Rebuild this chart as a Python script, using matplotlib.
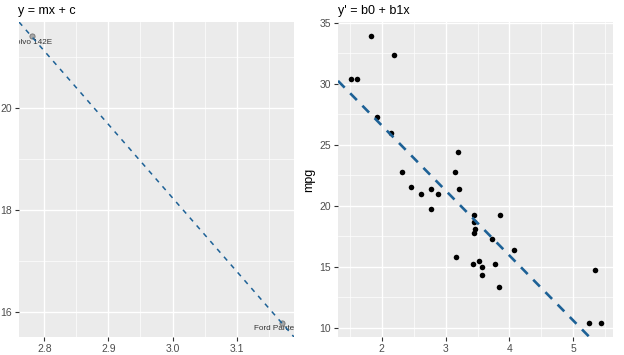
import matplotlib
matplotlib.use("Agg")
import matplotlib.pyplot as plt
from matplotlib.ticker import MultipleLocator, FormatStrFormatter
import numpy as np

plt.rcParams["font.family"] = ["Liberation Sans", "DejaVu Sans"]

# mtcars data (weight in 1000 lbs, miles per gallon)
wt = [2.620, 2.875, 2.320, 3.215, 3.440, 3.460, 3.570, 3.190, 3.150, 3.440, 3.440,
      4.070, 3.730, 3.780, 5.250, 5.424, 5.345, 2.200, 1.615, 1.835, 2.465, 3.520,
      3.435, 3.840, 3.845, 1.935, 2.140, 1.513, 3.170, 2.770, 3.570, 2.780]
mpg = [21.0, 21.0, 22.8, 21.4, 18.7, 18.1, 14.3, 24.4, 22.8, 19.2, 17.8,
       16.4, 17.3, 15.2, 10.4, 10.4, 14.7, 32.4, 30.4, 33.9, 21.5, 15.5,
       15.2, 13.3, 19.2, 27.3, 26.0, 30.4, 15.8, 19.7, 15.0, 21.4]

# two labelled cars in the left panel
car_names = ["Volvo 142E", "Ford Pantera L"]
car_wt = [2.78, 3.17]
car_mpg = [21.4, 15.8]

# regression coefficients (mpg ~ wt)
b0 = 37.285
b1 = -5.344

titles = ["y = mx + c", "y' = b0 + b1x"]

BG = "#EBEBEB"
LINE = "#1d6196"
TICKC = "#4D4D4D"

fig = plt.figure(figsize=(6.24, 3.55), dpi=100)
W, H = 624, 355

def style(ax):
    ax.set_facecolor(BG)
    for s in ax.spines.values():
        s.set_visible(False)
    ax.grid(True, which="major", color="white", lw=1.0)
    ax.grid(True, which="minor", color="white", lw=0.5)
    ax.set_axisbelow(True)
    ax.tick_params(which="major", length=3, width=0.8, color="#333333",
                   labelcolor=TICKC, labelsize=7.5, pad=2)
    ax.tick_params(which="minor", length=0)

def expand(vals, frac=0.05):
    lo, hi = min(vals), max(vals)
    d = (hi - lo) * frac
    return lo - d, hi + d

# ---------------- left panel ----------------
ax1 = fig.add_axes([19 / W, 18 / H, 275 / W, 315 / H])
style(ax1)
xl = expand(car_wt)
yl = expand(car_mpg)
ax1.set_xlim(xl)
ax1.set_ylim(yl)
ax1.xaxis.set_major_locator(MultipleLocator(0.1))
ax1.xaxis.set_minor_locator(MultipleLocator(0.05))
ax1.yaxis.set_major_locator(MultipleLocator(2))
ax1.yaxis.set_minor_locator(MultipleLocator(1))
ax1.xaxis.set_major_formatter(FormatStrFormatter("%.1f"))

m = (car_mpg[1] - car_mpg[0]) / (car_wt[1] - car_wt[0])
c = car_mpg[0] - m * car_wt[0]
ax1.scatter(car_wt, car_mpg, s=14, color="#a0a0a0", edgecolor="#6a6a6a",
            linewidth=0.6, alpha=0.9, zorder=3)
xs = np.array(xl)
ax1.plot(xs, m * xs + c, color=LINE, lw=1.1, dashes=(3.2, 3.6), zorder=4)
for n, x, y in zip(car_names, car_wt, car_mpg):
    ax1.annotate(n, (x, y), xytext=(0, -2.0), textcoords="offset points",
                 ha="center", va="top", fontsize=5.9, color="#333333",
                 annotation_clip=False, clip_on=True)
ax1.text(-0.002, 1.015, titles[0], transform=ax1.transAxes, fontsize=9,
         color="black", ha="left", va="bottom")

# ---------------- right panel ----------------
ax2 = fig.add_axes([338 / W, 18 / H, 275 / W, 315 / H])
style(ax2)
xl2 = expand(wt)
yl2 = expand(mpg)
ax2.set_xlim(xl2)
ax2.set_ylim(yl2)
ax2.xaxis.set_major_locator(MultipleLocator(1))
ax2.xaxis.set_minor_locator(MultipleLocator(0.5))
ax2.yaxis.set_major_locator(MultipleLocator(5))
ax2.yaxis.set_minor_locator(MultipleLocator(2.5))
ax2.scatter(wt, mpg, s=16, color="black", zorder=3, linewidth=0)
xs2 = np.array(xl2)
ax2.plot(xs2, b0 + b1 * xs2, color=LINE, lw=1.9, dashes=(3.6, 3.0), zorder=4)
ax2.set_ylabel("mpg", fontsize=9, color="black", labelpad=3)
ax2.text(0.0, 1.015, titles[1], transform=ax2.transAxes, fontsize=9,
         color="black", ha="left", va="bottom")

fig.savefig("out.png", dpi=100, facecolor="white")
